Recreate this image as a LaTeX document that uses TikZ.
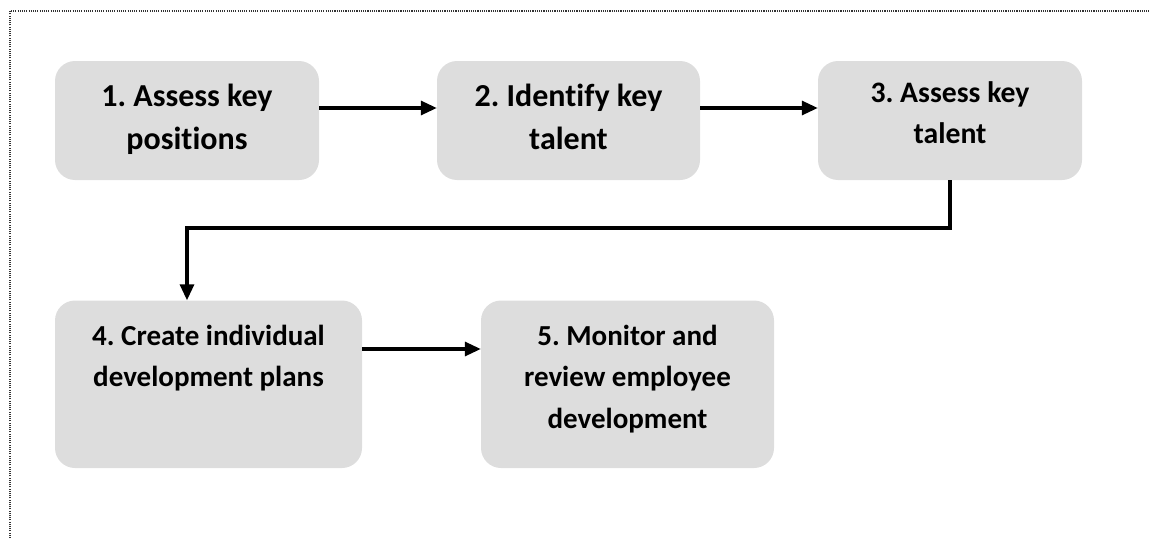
\documentclass[tikz,border=0pt]{standalone}
\usepackage{fontspec}
\setmainfont{Carlito}[Ligatures=NoCommon]
\usetikzlibrary{arrows.meta}
\definecolor{boxgray}{HTML}{DDDDDD}
\frenchspacing
% invisible rule that fixes the height of the first text line
\newcommand\firstline{\rule{0pt}{30pt}}
\begin{document}
\begin{tikzpicture}[x=1pt,y=-1pt,
  stepbox/.style={draw=none, fill=boxgray, rounded corners=20pt, inner sep=0pt},
  steptext/.style={anchor=north, inner sep=0pt, align=center,
    font=\bfseries\fontsize{29}{41.5}\selectfont},
  bigtext/.style={steptext, font=\bfseries\fontsize{32}{43}\selectfont},
  flow/.style={line width=3.2pt, -{Triangle[length=16pt,width=14pt]}},
  frame/.style={line width=1.1pt, dash pattern=on 1.1pt off 1.1pt, black!80}]
\useasboundingbox (0,0) rectangle (1149,538);
\draw[frame] (10,538) -- (10,11) -- (1149,11);

% step boxes
\node[stepbox, minimum width=264pt, minimum height=119pt] (b1) at (187,120.5) {};
\node[stepbox, minimum width=263pt, minimum height=119pt] (b2) at (568.5,120.5) {};
\node[stepbox, minimum width=264pt, minimum height=119pt] (b3) at (950,120.5) {};
\node[stepbox, minimum width=307pt, minimum height=167.5pt] (b4) at (208.5,384.25) {};
\node[stepbox, minimum width=293pt, minimum height=167.5pt] (b5) at (627.5,384.25) {};

% step labels
\node[bigtext] (t1) at ([yshift=-15pt]b1.north) {\firstline 1. Assess key\\positions};
\node[bigtext] (t2) at ([yshift=-15.5pt]b2.north) {\firstline 2. Identify key\\talent};
\node[steptext, font=\bfseries\fontsize{29.7}{40.5}\selectfont] (t3)
  at ([yshift=-11.7pt]b3.north) {\firstline 3. Assess key\\talent};
\node[steptext] (t4) at ([yshift=-14.5pt]b4.north) {\firstline 4. Create individual\\development plans};
\node[steptext] (t5) at ([yshift=-14.5pt]b5.north) {\firstline 5. Monitor and\\review employee\\development};

% connectors
\coordinate (bend) at (187,228);
\draw[flow] ([yshift=12.5pt]b1.east) -- ([yshift=12.5pt]b2.west);
\draw[flow] ([yshift=12.5pt]b2.east) -- ([yshift=12.5pt]b3.west);
\draw[flow] (b3.south) |- (bend) -- ([xshift=-21.5pt]b4.north);
\draw[flow] ([yshift=35.25pt]b4.east) -- ([yshift=35.25pt]b5.west);
\end{tikzpicture}
\end{document}
